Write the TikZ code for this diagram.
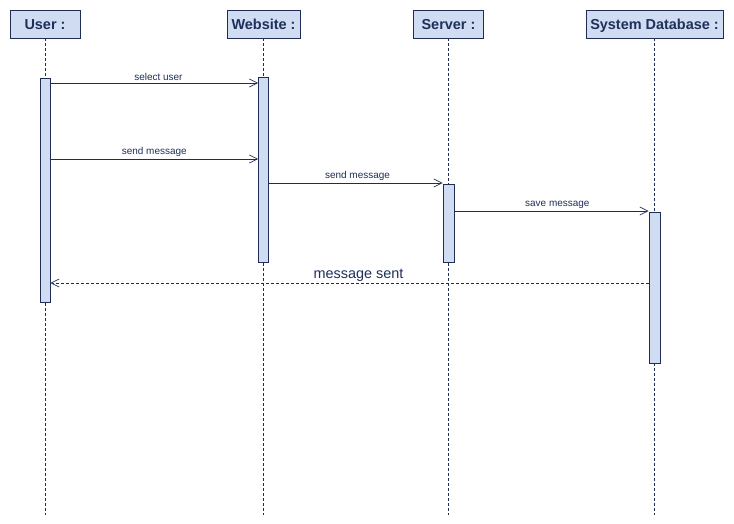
\documentclass[tikz,border=0pt]{standalone}
\usepackage{fontspec}
\setmainfont{Liberation Sans}
\usetikzlibrary{arrows.meta}
\definecolor{boxfill}{RGB}{208,220,242}
\definecolor{navy}{RGB}{31,45,85}
\definecolor{txt}{RGB}{30,48,90}
\begin{document}
\begin{tikzpicture}[x=1bp,y=-1bp,
 head/.style={draw=navy, fill=boxfill, line width=0.8bp, inner sep=0, minimum height=28bp, text height=10.5bp, text depth=0bp, font=\bfseries\fontsize{14.5}{16}\selectfont, text=txt},
 act/.style={draw=navy, fill=boxfill, line width=0.8bp, minimum width=10bp, inner sep=0},
 life/.style={draw=navy, line width=0.6bp, dash pattern=on 3bp off 2bp},
 msg/.style={draw=navy, line width=0.7bp, -{Straight Barb[length=8bp,width=8bp]}},
 ret/.style={msg, dash pattern=on 3bp off 2bp},
 lbl/.style={font=\fontsize{10}{11}\selectfont, text=txt, above=1bp, inner sep=1bp},
 biglbl/.style={font=\fontsize{14.5}{16}\selectfont, text=txt, above=0bp, inner sep=1bp}
]
\useasboundingbox[fill=white] (0,0) rectangle (734,524);
% headers
\node[head, minimum width=70bp] (user) at (45,24) {User :};
\node[head, minimum width=73bp] (web) at (263.5,24) {Website :};
\node[head, minimum width=70bp] (srv) at (448.5,24) {Server :};
\node[head, minimum width=137bp] (db) at (654.5,24) {System Database :};
% lifeline ends
\coordinate (userend) at (45,515);
\coordinate (webend) at (263.5,515);
\coordinate (srvend) at (448.5,515);
\coordinate (dbend) at (654.5,515);
\draw[life] (user.south) -- (userend);
\draw[life] (web.south) -- (webend);
\draw[life] (srv.south) -- (srvend);
\draw[life] (db.south) -- (dbend);
% activations
\node[act, minimum height=224bp] (ua) at (45,190) {};
\node[act, minimum height=185bp] (wa) at (263.5,169.5) {};
\node[act, minimum height=78bp, minimum width=11bp] (sa) at (448.5,223) {};
\node[act, minimum height=151bp, minimum width=11bp] (da) at (654.5,287.5) {};
% messages
\draw[msg] (ua.east |- 0,83) -- node[lbl, pos=0.52] (m1) {select user} (wa.west |- 0,83);
\draw[msg] (ua.east |- 0,159) -- node[lbl] (m2) {send message} (wa.west |- 0,159);
\draw[msg] (wa.east |- 0,183) -- node[lbl, pos=0.51] (m3) {send message} (sa.west |- 0,183);
\draw[msg] (sa.east |- 0,211) -- node[lbl, pos=0.53] (m4) {save message} (da.west |- 0,211);
\draw[ret] (da.west |- 0,283) -- node[biglbl, pos=0.485] (m5) {message sent} (ua.east |- 0,283);
\end{tikzpicture}
\end{document}
